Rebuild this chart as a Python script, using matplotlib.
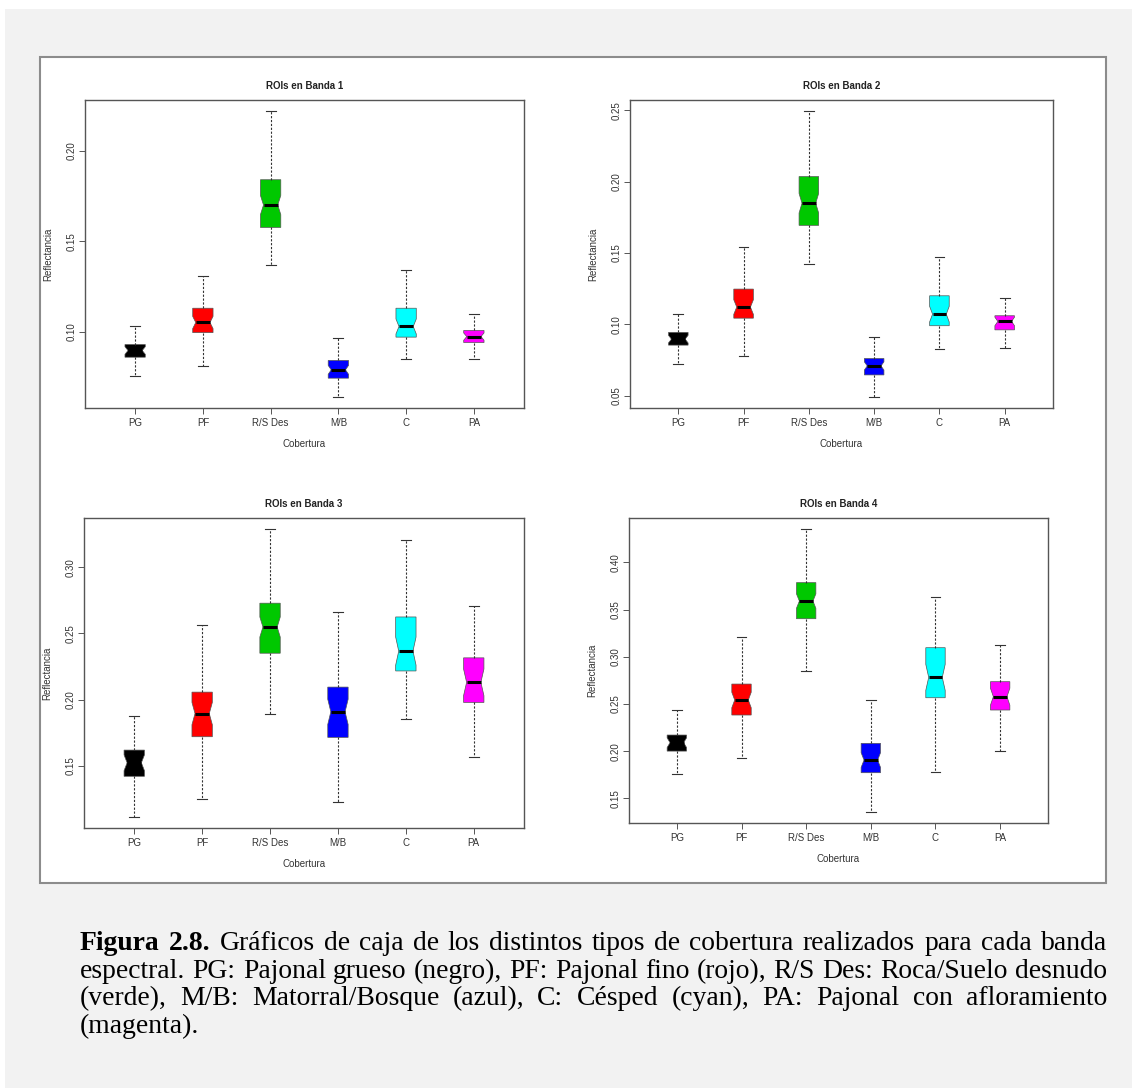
import matplotlib
matplotlib.use('Agg')
import matplotlib.pyplot as plt
from matplotlib.patches import Rectangle
from matplotlib.ticker import MultipleLocator, FormatStrFormatter

# clases de cobertura y colores de cada caja
clases = ['PG', 'PF', 'R/S Des', 'M/B', 'C', 'PA']
colores = ['#000000', '#ff0000', '#00c800', '#0000ff', '#00ffff', '#ff00ff']
# factor de muesca (1.58/sqrt(n)) por clase, estimado
notch_k = [0.30, 0.25, 0.20, 0.25, 0.26, 0.30]

# Banda 1
b1_min = [0.0755, 0.0807, 0.1369, 0.0640, 0.0847, 0.0847]
b1_q1 = [0.0858, 0.0994, 0.1576, 0.0742, 0.0969, 0.0939]
b1_med = [0.0895, 0.1050, 0.1700, 0.0788, 0.1028, 0.0972]
b1_q3 = [0.0928, 0.1129, 0.1840, 0.0840, 0.1129, 0.1006]
b1_max = [0.1031, 0.1310, 0.2218, 0.0963, 0.1341, 0.1096]

# Banda 2
b2_min = [0.0722, 0.0779, 0.1420, 0.0493, 0.0826, 0.0837]
b2_q1 = [0.0854, 0.1043, 0.1694, 0.0645, 0.0990, 0.0961]
b2_med = [0.0896, 0.1121, 0.1849, 0.0708, 0.1071, 0.1020]
b2_q3 = [0.0943, 0.1247, 0.2036, 0.0760, 0.1200, 0.1060]
b2_max = [0.1071, 0.1545, 0.2493, 0.0910, 0.1470, 0.1184]

# Banda 3
b3_min = [0.1117, 0.1247, 0.1890, 0.1226, 0.1852, 0.1563]
b3_q1 = [0.1421, 0.1720, 0.2351, 0.1715, 0.2217, 0.1979]
b3_med = [0.1523, 0.1895, 0.2549, 0.1908, 0.2367, 0.2131]
b3_q3 = [0.1619, 0.2057, 0.2729, 0.2095, 0.2625, 0.2316]
b3_max = [0.1880, 0.2564, 0.3286, 0.2666, 0.3208, 0.2709]

# Banda 4
b4_min = [0.1758, 0.1927, 0.2849, 0.1359, 0.1775, 0.2001]
b4_q1 = [0.2001, 0.2383, 0.3403, 0.1772, 0.2566, 0.2436]
b4_med = [0.2090, 0.2542, 0.3590, 0.1906, 0.2782, 0.2577]
b4_q3 = [0.2171, 0.2711, 0.3785, 0.2083, 0.3096, 0.2736]
b4_max = [0.2436, 0.3206, 0.4350, 0.2542, 0.3629, 0.3128]

titulos = ['ROIs en Banda 1', 'ROIs en Banda 2', 'ROIs en Banda 3', 'ROIs en Banda 4']

leyenda = [
    [('Figura', True), ('2.8.', True)] + [(w, False) for w in
     'Gráficos de caja de los distintos tipos de cobertura realizados para cada banda'.split()],
    [(w, False) for w in
     'espectral. PG: Pajonal grueso (negro), PF: Pajonal fino (rojo), R/S Des: Roca/Suelo desnudo'.split()],
    [(w, False) for w in
     '(verde), M/B: Matorral/Bosque (azul), C: Césped (cyan), PA: Pajonal con afloramiento'.split()],
    [('(magenta).', False)],
]

W, H = 1132, 1088
ANCHO = 0.3   # ancho de caja
fig = plt.figure(figsize=(W / 100, H / 100), dpi=100)
fig.patch.set_facecolor('#f2f2f2')
plt.rcParams['font.family'] = ['Liberation Sans', 'DejaVu Sans']


def px(x0, y0, x1, y1):
    # caja en pixeles (desde arriba) -> fracciones de figura
    return [x0 / W, 1 - y1 / H, (x1 - x0) / W, (y1 - y0) / H]


# bordes blancos del recorte y marco de la figura (detras de los ejes)
fig.patches.append(Rectangle((0, 1 - 9 / H), 1, 9 / H, transform=fig.transFigure,
                             facecolor='white', edgecolor='none', zorder=-10))
fig.patches.append(Rectangle((0, 0), 5 / W, 1, transform=fig.transFigure,
                             facecolor='white', edgecolor='none', zorder=-10))
b = px(40, 57, 1106, 883)
fig.patches.append(Rectangle((b[0], b[1]), b[2], b[3], transform=fig.transFigure,
                             facecolor='white', edgecolor='#8c8c8c', lw=1.5, zorder=-10))

cajas = [px(85, 100, 524, 408), px(630, 100, 1053, 408),
         px(84, 518, 524, 828), px(629, 518, 1048, 823)]
bandas = [(b1_min, b1_q1, b1_med, b1_q3, b1_max),
          (b2_min, b2_q1, b2_med, b2_q3, b2_max),
          (b3_min, b3_q1, b3_med, b3_q3, b3_max),
          (b4_min, b4_q1, b4_med, b4_q3, b4_max)]

for caja, datos, titulo in zip(cajas, bandas, titulos):
    ax = fig.add_axes(caja)
    lo, q1, med, q3, hi = datos
    stats = []
    for i in range(len(clases)):
        iqr = q3[i] - q1[i]
        stats.append(dict(whislo=lo[i], q1=q1[i], med=med[i], q3=q3[i], whishi=hi[i],
                          cilo=max(q1[i], med[i] - notch_k[i] * iqr),
                          cihi=min(q3[i], med[i] + notch_k[i] * iqr),
                          fliers=[]))
    pos = list(range(1, len(clases) + 1))
    bp = ax.bxp(stats, positions=pos, widths=ANCHO, shownotches=True, patch_artist=True,
                showfliers=False,
                whiskerprops=dict(color='#333333', lw=0.8, linestyle=(0, (2, 1.5))),
                capprops=dict(color='#333333', lw=0.8),
                medianprops=dict(color='black', lw=2.2))
    for p, c, x, m in zip(bp['boxes'], colores, pos, bp['medians']):
        p.set_facecolor(c)
        p.set_edgecolor('#555555')
        p.set_linewidth(0.5)
        # muesca menos profunda que la de matplotlib
        v = p.get_path().vertices
        v[3, 0] = x + ANCHO * 0.35
        v[8, 0] = x - ANCHO * 0.35
        m.set_xdata([x - ANCHO * 0.35, x + ANCHO * 0.35])

    # limites al estilo R: rango + 4%
    ymin, ymax = min(lo), max(hi)
    r = ymax - ymin
    ax.set_ylim(ymin - 0.04 * r, ymax + 0.04 * r)
    ax.set_xlim(0.5 - 0.24, len(clases) + 0.5 + 0.24)

    ax.set_xticks(pos)
    ax.set_xticklabels(clases)
    ax.yaxis.set_major_locator(MultipleLocator(0.05))
    ax.yaxis.set_major_formatter(FormatStrFormatter('%.2f'))
    ax.tick_params(axis='both', labelsize=7, length=4, width=0.7, color='#555555',
                   labelcolor='#333333')
    ax.tick_params(axis='x', pad=3)
    ax.tick_params(axis='y', pad=2)
    for lab in ax.get_yticklabels():
        lab.set_rotation(90)
        lab.set_va('center')
    for s in ax.spines.values():
        s.set_color('#555555')
        s.set_linewidth(1.0)

    wpx = caja[2] * W
    hpx = caja[3] * H
    ax.set_xlabel('Cobertura', fontsize=7, color='#333333')
    ax.set_ylabel('Reflectancia', fontsize=7, color='#333333')
    ax.xaxis.set_label_coords(0.5, -31 / hpx)
    ax.yaxis.set_label_coords(-32 / wpx, 0.5)
    ax.set_title(titulo, fontsize=7, fontweight='bold', color='#222222', pad=8)

# pie de figura justificado
renderer = fig.canvas.get_renderer()
x0, x1 = 80, 1107
base_y = [950, 978, 1005, 1033]


def ancho(palabras, fs):
    total = 0
    for w, neg in palabras:
        t = fig.text(0, 0, w, fontsize=fs, family='Liberation Serif',
                     fontweight='bold' if neg else 'normal')
        total += t.get_window_extent(renderer).width
        t.remove()
    return total


fs0 = 10
esp = fig.text(0, 0, 'a a', fontsize=fs0, family='Liberation Serif')
esp_w = esp.get_window_extent(renderer).width
esp.remove()
a = fig.text(0, 0, 'aa', fontsize=fs0, family='Liberation Serif')
esp_w -= a.get_window_extent(renderer).width
a.remove()
nat = max(ancho(p, fs0) + esp_w * (len(p) - 1) for p in leyenda[:3])
fs = fs0 * (x1 - x0) / nat * 0.995

for k, (palabras, y) in enumerate(zip(leyenda, base_y)):
    objs = []
    for w, neg in palabras:
        t = fig.text(0, 1 - y / H, w, fontsize=fs, family='Liberation Serif',
                     fontweight='bold' if neg else 'normal', va='baseline', ha='left',
                     color='black')
        objs.append(t)
    anchos = [t.get_window_extent(renderer).width for t in objs]
    if k < 3 and len(objs) > 1:
        hueco = (x1 - x0 - sum(anchos)) / (len(objs) - 1)
    else:
        hueco = esp_w * fs / fs0
    x = x0
    for t, wd in zip(objs, anchos):
        t.set_x(x / W)
        x += wd + hueco

fig.savefig('out.png', dpi=100, facecolor=fig.get_facecolor())
